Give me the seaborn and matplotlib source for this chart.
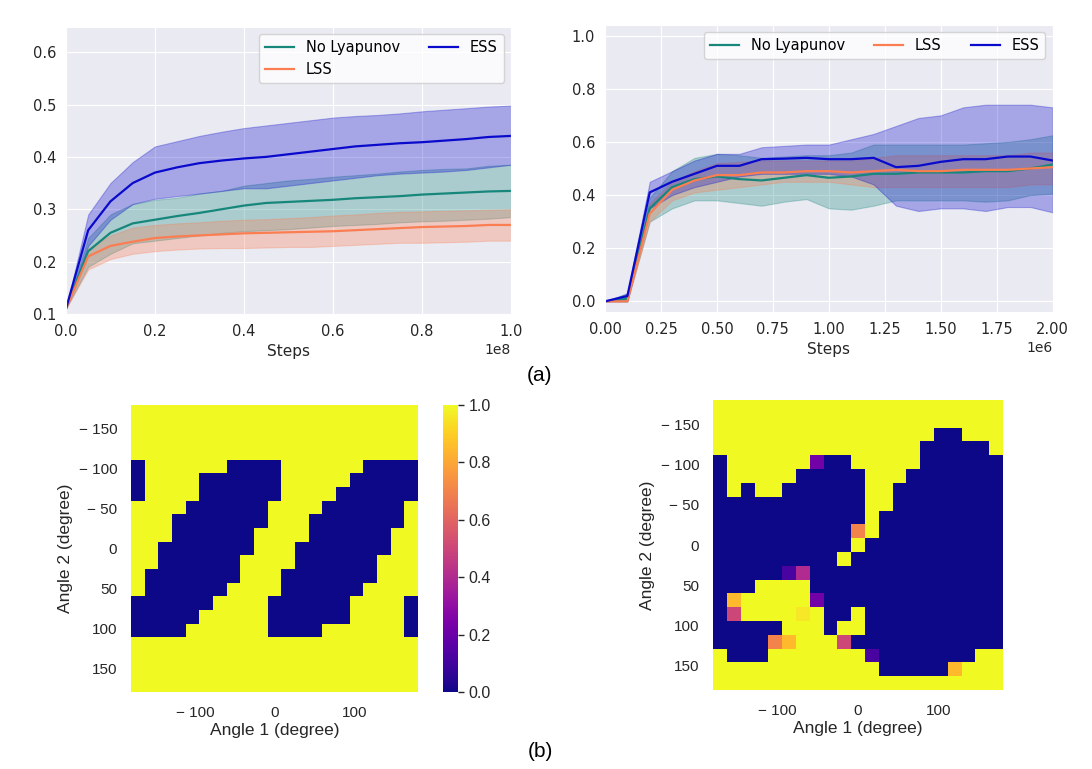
import numpy as np
import pandas as pd
import matplotlib
matplotlib.use("Agg")
import matplotlib.pyplot as plt
import seaborn as sns

# ---- Dados: curvas de treinamento (a) ----
steps_a = [i * 0.05e8 for i in range(21)]
ess_a = [0.11, 0.26, 0.315, 0.35, 0.37, 0.38, 0.388, 0.393, 0.397, 0.40, 0.405,
         0.41, 0.415, 0.42, 0.423, 0.426, 0.428, 0.431, 0.434, 0.438, 0.44]
ess_a_lo = [0.11, 0.23, 0.28, 0.31, 0.32, 0.325, 0.33, 0.335, 0.34, 0.34, 0.345,
            0.35, 0.355, 0.36, 0.365, 0.368, 0.37, 0.372, 0.375, 0.38, 0.385]
ess_a_hi = [0.11, 0.29, 0.35, 0.39, 0.42, 0.43, 0.44, 0.448, 0.455, 0.46, 0.465,
            0.47, 0.475, 0.478, 0.48, 0.483, 0.487, 0.49, 0.493, 0.496, 0.498]
nol_a = [0.11, 0.22, 0.255, 0.273, 0.28, 0.287, 0.293, 0.30, 0.307, 0.312, 0.314,
         0.316, 0.318, 0.321, 0.323, 0.325, 0.328, 0.33, 0.332, 0.334, 0.335]
nol_a_lo = [0.11, 0.19, 0.215, 0.235, 0.24, 0.245, 0.25, 0.255, 0.258, 0.26, 0.262,
            0.265, 0.268, 0.27, 0.272, 0.275, 0.277, 0.278, 0.28, 0.282, 0.285]
nol_a_hi = [0.11, 0.245, 0.29, 0.31, 0.318, 0.322, 0.33, 0.335, 0.345, 0.35, 0.355,
            0.358, 0.362, 0.365, 0.368, 0.372, 0.375, 0.377, 0.378, 0.383, 0.385]
lss_a = [0.11, 0.21, 0.23, 0.238, 0.245, 0.248, 0.25, 0.252, 0.254, 0.255, 0.256,
         0.257, 0.258, 0.26, 0.262, 0.264, 0.266, 0.267, 0.268, 0.27, 0.27]
lss_a_lo = [0.11, 0.185, 0.205, 0.215, 0.22, 0.223, 0.225, 0.226, 0.226, 0.227, 0.228,
            0.228, 0.23, 0.232, 0.234, 0.236, 0.236, 0.237, 0.238, 0.24, 0.24]
lss_a_hi = [0.11, 0.225, 0.25, 0.265, 0.27, 0.273, 0.275, 0.278, 0.28, 0.281, 0.283,
            0.285, 0.288, 0.29, 0.293, 0.295, 0.296, 0.297, 0.298, 0.299, 0.30]

steps_b = [i * 0.1e6 for i in range(21)]
ess_b = [0.0, 0.02, 0.41, 0.45, 0.48, 0.51, 0.51, 0.535, 0.537, 0.54, 0.535,
         0.535, 0.54, 0.505, 0.51, 0.525, 0.535, 0.535, 0.545, 0.545, 0.53]
ess_b_lo = [0.0, 0.0, 0.35, 0.40, 0.43, 0.45, 0.47, 0.48, 0.48, 0.48, 0.48,
            0.47, 0.44, 0.36, 0.34, 0.35, 0.35, 0.34, 0.355, 0.355, 0.335]
ess_b_hi = [0.0, 0.03, 0.45, 0.49, 0.53, 0.555, 0.555, 0.58, 0.585, 0.59, 0.59,
            0.61, 0.63, 0.66, 0.69, 0.70, 0.73, 0.74, 0.74, 0.74, 0.73]
nol_b = [0.0, 0.01, 0.35, 0.43, 0.46, 0.47, 0.46, 0.455, 0.465, 0.475, 0.465,
         0.47, 0.48, 0.48, 0.485, 0.485, 0.485, 0.49, 0.49, 0.50, 0.515]
nol_b_lo = [0.0, 0.0, 0.30, 0.35, 0.38, 0.38, 0.37, 0.36, 0.375, 0.385, 0.35,
            0.345, 0.36, 0.38, 0.38, 0.38, 0.38, 0.375, 0.38, 0.40, 0.405]
nol_b_hi = [0.0, 0.03, 0.39, 0.49, 0.54, 0.555, 0.55, 0.54, 0.545, 0.55, 0.55,
            0.56, 0.59, 0.59, 0.59, 0.59, 0.59, 0.595, 0.60, 0.61, 0.625]
lss_b = [0.0, 0.0, 0.33, 0.42, 0.455, 0.475, 0.475, 0.485, 0.485, 0.49, 0.49,
         0.485, 0.49, 0.495, 0.49, 0.49, 0.495, 0.495, 0.495, 0.50, 0.505]
lss_b_lo = [0.0, 0.0, 0.30, 0.38, 0.41, 0.42, 0.43, 0.44, 0.45, 0.45, 0.45,
            0.44, 0.43, 0.43, 0.43, 0.43, 0.43, 0.43, 0.43, 0.44, 0.44]
lss_b_hi = [0.0, 0.01, 0.37, 0.45, 0.49, 0.52, 0.525, 0.53, 0.53, 0.53, 0.53,
            0.53, 0.54, 0.55, 0.55, 0.55, 0.55, 0.55, 0.55, 0.56, 0.56]

methods = ["No Lyapunov", "LSS", "ESS"]
colors = {"No Lyapunov": "#17877c", "LSS": "#fb7d52", "ESS": "#0a0acc"}

# ---- Dados: mapas de estabilidade (b) ----
# '#' = 0, '.' = 1, letras = valores intermediários
cell_values = {"#": 0.0, ".": 1.0, "d": 0.12, "p": 0.22, "q": 0.4, "m": 0.5,
               "o": 0.7, "y": 0.85, "Y": 0.96}
map_left = [
    ".....................",
    ".....................",
    ".....................",
    ".....................",
    "#......####......####",
    "#....######.....#####",
    "#....######....######",
    "....######....######.",
    "...#######...#######.",
    "...######....######..",
    "..#######...#######..",
    "..######....######...",
    ".#######...#######...",
    ".######....######....",
    "######....######....#",
    "#####.....######....#",
    "####......####......#",
    ".....................",
    ".....................",
    ".....................",
    ".....................",
]
map_right = [
    ".....................",
    ".....................",
    "................##...",
    "...............#####.",
    "#......p##.....######",
    "#.....#####...#######",
    "#.#..######..########",
    "###########..########",
    "###########.#########",
    "##########o.#########",
    "##########.##########",
    "#########.###########",
    "#####dq##############",
    "###....##############",
    "#y.....p#############",
    "#m....Y.##.##########",
    "#####...#..##########",
    "####oy...m###########",
    ".###.......d#######..",
    "............#####y...",
    ".....................",
]
angle_ticks_y = [-150, -100, -50, 0, 50, 100, 150]
angle_ticks_x = [-100, 0, 100]


def to_grid(rows):
    return np.array([[cell_values[c] for c in r] for r in rows])


def curve_plot(ax, x, series, bands, legend_cols):
    for m in methods:
        df = pd.DataFrame({"Steps": x, "value": series[m]})
        sns.lineplot(data=df, x="Steps", y="value", ax=ax, color=colors[m],
                     label=m, linewidth=1.6)
        lo, hi = bands[m]
        ax.fill_between(x, lo, hi, color=colors[m], alpha=0.3, linewidth=0.8)
    ax.set_ylabel("")
    ax.set_xlabel("Steps", fontsize=11)
    ax.tick_params(labelsize=10.5)
    ax.legend(ncol=legend_cols, loc="upper right", fontsize=10.5)


fig = plt.figure(figsize=(10.92, 7.69), dpi=100)

with sns.axes_style("darkgrid"):
    ax1 = fig.add_axes([0.0604, 0.5917, 0.4075, 0.3732])
    ax2 = fig.add_axes([0.554, 0.5943, 0.410, 0.3732])

curve_plot(ax1, steps_a,
           {"No Lyapunov": nol_a, "LSS": lss_a, "ESS": ess_a},
           {"No Lyapunov": (nol_a_lo, nol_a_hi), "LSS": (lss_a_lo, lss_a_hi),
            "ESS": (ess_a_lo, ess_a_hi)}, 2)
ax1.set_xlim(0, 1e8)
ax1.set_ylim(0.1, 0.648)
ax1.set_yticks([0.1, 0.2, 0.3, 0.4, 0.5, 0.6])

curve_plot(ax2, steps_b,
           {"No Lyapunov": nol_b, "LSS": lss_b, "ESS": ess_b},
           {"No Lyapunov": (nol_b_lo, nol_b_hi), "LSS": (lss_b_lo, lss_b_hi),
            "ESS": (ess_b_lo, ess_b_hi)}, 3)
ax2.set_xlim(0, 2e6)
ax2.set_ylim(-0.04, 1.04)
ax2.set_yticks([0.0, 0.2, 0.4, 0.6, 0.8, 1.0])

# Mapas de calor
with sns.axes_style("white"):
    ax3 = fig.add_axes([0.12, 0.1001, 0.2628, 0.3732])
    cax = fig.add_axes([0.4057, 0.1001, 0.0137, 0.3732])
    ax4 = fig.add_axes([0.653, 0.1027, 0.2656, 0.3771])

sns.heatmap(to_grid(map_left), ax=ax3, cmap="plasma", vmin=0, vmax=1,
            cbar_ax=cax, xticklabels=False, yticklabels=False)
sns.heatmap(to_grid(map_right), ax=ax4, cmap="plasma", vmin=0, vmax=1,
            cbar=False, xticklabels=False, yticklabels=False)

hfont = ["Liberation Sans", "DejaVu Sans"]
n = len(map_left)
for ax in (ax3, ax4):
    ax.set_xticks([(a + 180) / 360 * n for a in angle_ticks_x])
    ax.set_xticklabels([str(a).replace("-", "\u2212 ") for a in angle_ticks_x],
                       fontsize=11, family=hfont)
    ax.set_yticks([(a + 180) / 360 * n for a in angle_ticks_y])
    ax.set_yticklabels([str(a).replace("-", "\u2212 ") for a in angle_ticks_y],
                       fontsize=11, family=hfont, rotation=0)
    ax.tick_params(length=0, pad=10)
    ax.set_xlabel("Angle 1 (degree)", fontsize=12.5, family=hfont, labelpad=2)
    ax.set_ylabel("Angle 2 (degree)", fontsize=12.5, family=hfont, labelpad=4)

cax.set_yticks([0.0, 0.2, 0.4, 0.6, 0.8, 1.0])
cax.set_yticklabels(["0.0", "0.2", "0.4", "0.6", "0.8", "1.0"],
                    fontsize=11.5, family=hfont)
cax.tick_params(length=4, width=1)

fig.text(0.4945, 0.505, "(a)", fontsize=15, family=hfont, ha="center")
fig.text(0.4945, 0.015, "(b)", fontsize=15, family=hfont, ha="center")

plt.savefig("out.png", dpi=100)
